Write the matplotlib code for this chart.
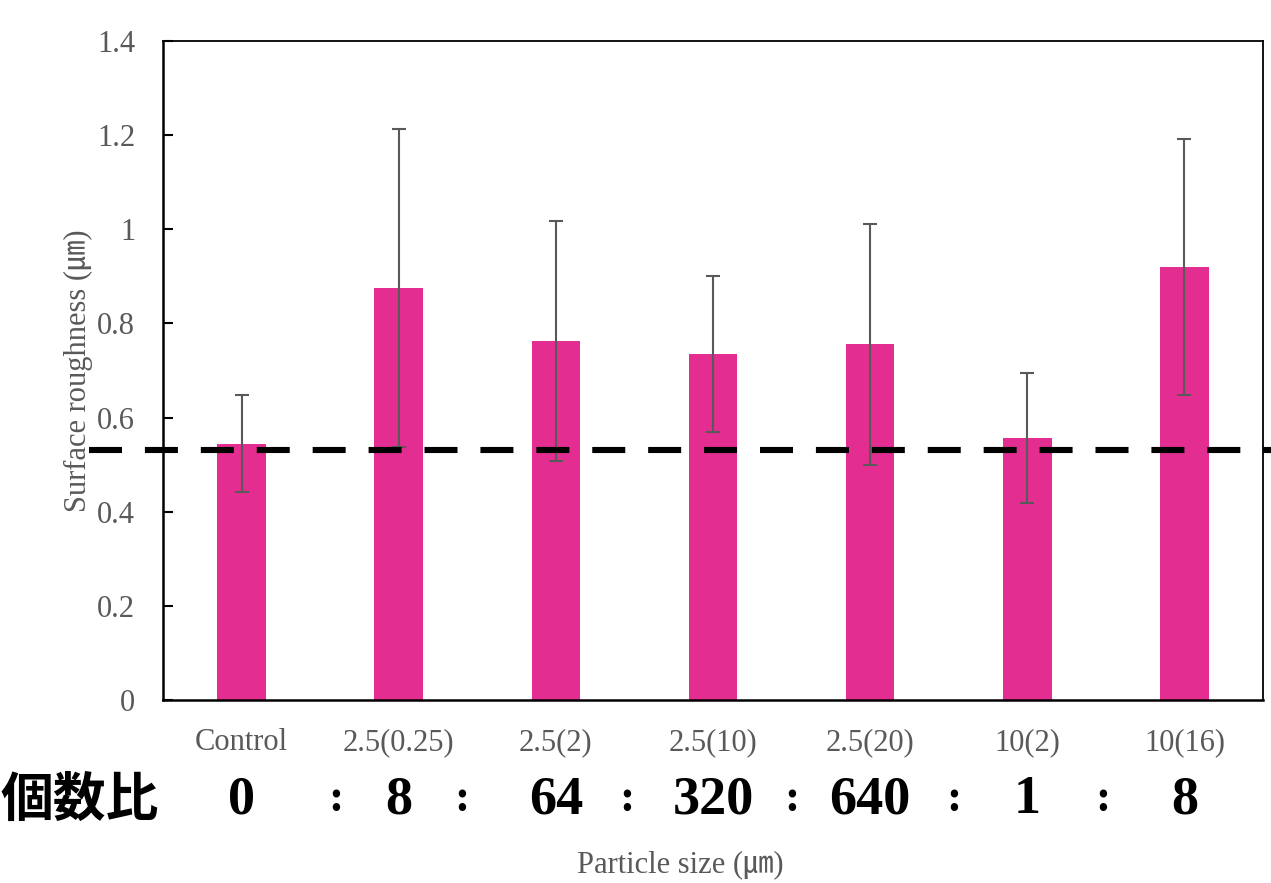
import matplotlib
matplotlib.use("Agg")
import matplotlib.pyplot as plt

# Surface roughness per particle size, mean and standard deviation
categories = ["Control", "2.5(0.25)", "2.5(2)", "2.5(10)", "2.5(20)", "10(2)", "10(16)"]
roughness = [0.544, 0.875, 0.763, 0.735, 0.756, 0.557, 0.920]
roughness_sd = [0.103, 0.338, 0.255, 0.165, 0.256, 0.138, 0.272]
count_ratio = ["0", "8", "64", "320", "640", "1", "8"]
reference_level = 0.531

BAR_COLOR = "#E32D90"
GRAY = "#595959"
SERIF = ["Liberation Serif", "Noto Sans CJK JP"]

plt.rcParams["font.family"] = SERIF

fig = plt.figure(figsize=(12.71, 8.83), dpi=100)
ax = fig.add_axes([163 / 1271, 183 / 883, 1100 / 1271, 659 / 883])

x = [i + 0.5 for i in range(len(categories))]
ax.bar(x, roughness, width=0.31, color=BAR_COLOR, zorder=2)
ax.errorbar(x, roughness, yerr=roughness_sd, fmt="none", ecolor=GRAY,
            elinewidth=1.5, capsize=5, capthick=1.5, zorder=3)

# dashed reference line running past the left spine
line, = ax.plot([-0.067, 1.01], [reference_level, reference_level],
                transform=ax.get_yaxis_transform(), color="black",
                linewidth=4.4, clip_on=False, zorder=4)
line.set_dashes([5.4, 3.75])
line.set_dash_capstyle("butt")

ax.set_xlim(0, 7)
ax.set_ylim(0, 1.4)
ax.set_yticks([0, 0.2, 0.4, 0.6, 0.8, 1.0, 1.2, 1.4])
ax.set_yticklabels(["0", "0.2", "0.4", "0.6", "0.8", "1", "1.2", "1.4"])
ax.set_xticks(x)
ax.set_xticklabels(categories)
ax.tick_params(axis="y", direction="in", length=7, width=1.5, pad=20,
               labelsize=22, labelcolor=GRAY)
ax.tick_params(axis="x", length=0, pad=20, labelsize=22, labelcolor=GRAY)
for side in ["left", "bottom"]:
    ax.spines[side].set_linewidth(1.8)
for side in ["top", "right"]:
    ax.spines[side].set_linewidth(1.3)

ax.set_ylabel("Surface roughness (㎛)", fontsize=22, color=GRAY, labelpad=3)

# particle count ratio row under the category labels
row_y = -0.152
for xi, r in zip(x, count_ratio):
    ax.text(xi, row_y, r, transform=ax.get_xaxis_transform(), ha="center",
            va="center", fontsize=39, fontweight="bold", color="black")
colon_x = [1.1, 1.9, 2.95, 4.0, 5.03, 5.98]
for cx in colon_x:
    ax.text(cx, row_y, ":", transform=ax.get_xaxis_transform(), ha="center",
            va="center", fontsize=33, fontweight="bold", color="black")
fig.text(0 / 1271, 1 - 800 / 883, "個数比", ha="left", va="center",
         fontsize=38, fontweight="bold", family=["Noto Sans CJK JP"], color="black")

fig.text(680 / 1271, 1 - 865 / 883, "Particle size (㎛)", ha="center",
         va="center", fontsize=22, color=GRAY)

fig.savefig("out.png", dpi=100)
